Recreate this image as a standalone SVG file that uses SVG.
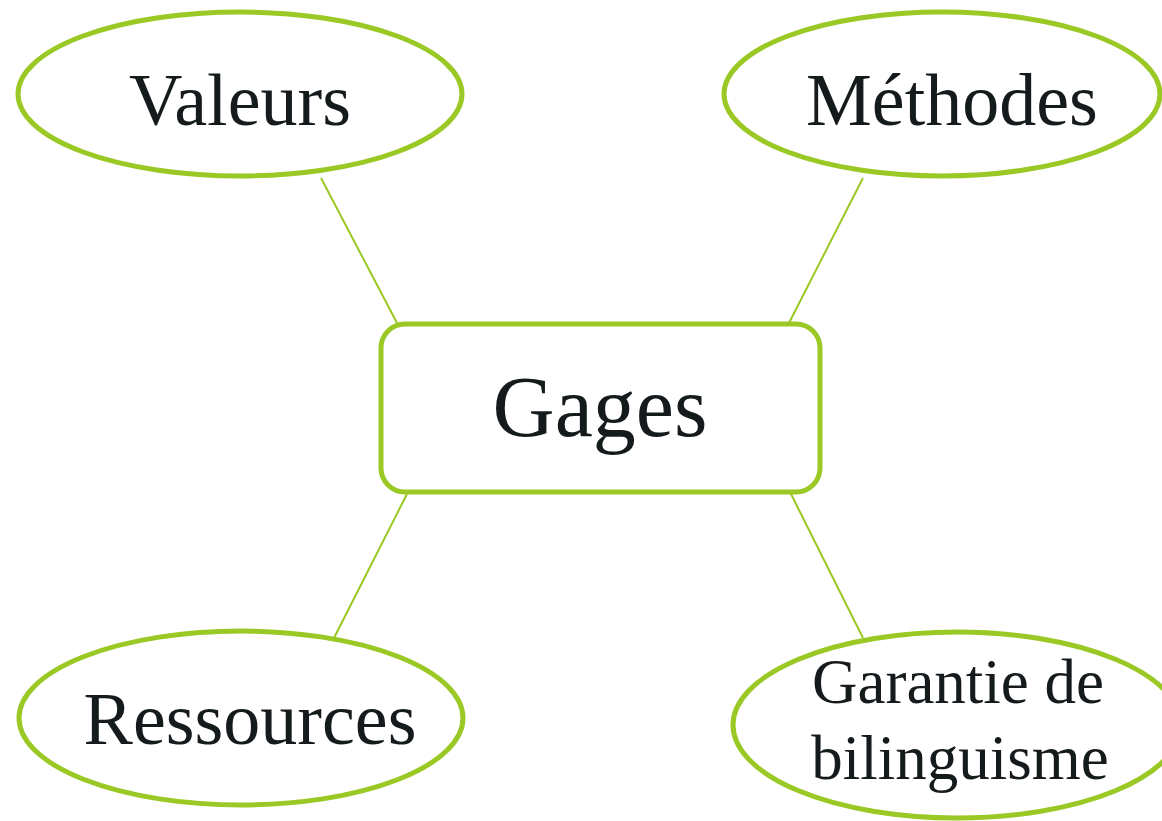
<svg xmlns="http://www.w3.org/2000/svg" width="1162" height="821" viewBox="0 0 1162 821">
<style>
.node{fill:#ffffff;stroke:#9ac824;stroke-width:5}
.edge{stroke:#9ac824;stroke-width:2;fill:none}
.lbl{font-family:"Liberation Serif","Times New Roman",serif;fill:#151a1c;text-anchor:middle}
</style>
<rect width="1162" height="821" fill="#ffffff"/>
<g id="connectors">
<line class="edge" x1="321" y1="178" x2="397" y2="323"/>
<line class="edge" x1="863" y1="178" x2="789" y2="323"/>
<line class="edge" x1="407" y1="494" x2="334" y2="638"/>
<line class="edge" x1="791" y1="494" x2="863" y2="638"/>
</g>
<g id="gages">
<rect class="node" x="381" y="324" width="439" height="168" rx="24"/>
<text class="lbl" x="600" y="436" font-size="86">Gages</text>
</g>
<g id="valeurs">
<ellipse class="node" cx="240" cy="94" rx="222" ry="82"/>
<text class="lbl" x="240" y="125" font-size="74">Valeurs</text>
</g>
<g id="methodes">
<ellipse class="node" cx="942" cy="94" rx="218" ry="82"/>
<text class="lbl" x="952" y="125" font-size="74">Méthodes</text>
</g>
<g id="ressources">
<ellipse class="node" cx="241" cy="718" rx="222" ry="87"/>
<text class="lbl" x="250" y="744" font-size="74">Ressources</text>
</g>
<g id="garantie">
<ellipse class="node" cx="957" cy="725" rx="224" ry="93"/>
<text class="lbl" x="958" y="703" font-size="63">Garantie de</text>
<text class="lbl" x="960" y="779" font-size="63">bilinguisme</text>
</g>
</svg>
